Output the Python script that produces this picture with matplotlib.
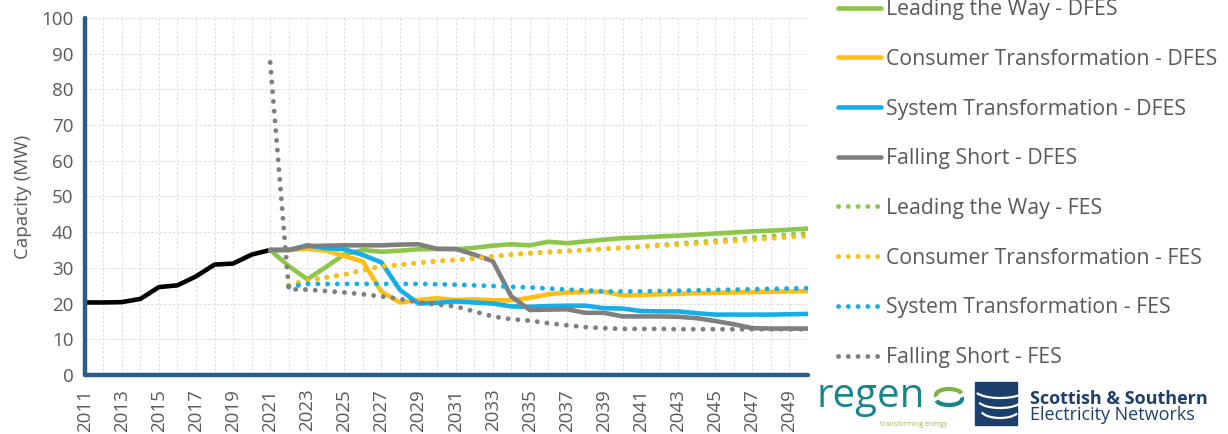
import numpy as np
import matplotlib
matplotlib.use("Agg")
import matplotlib.pyplot as plt
from matplotlib.patches import Rectangle, Arc
from matplotlib.ticker import MultipleLocator

plt.rcParams["font.family"] = ["Open Sans", "DejaVu Sans"]

# ---- data -------------------------------------------------------------
hist_years = list(range(2011, 2022))
historic = [20.3, 20.3, 20.4, 21.3, 24.6, 25.1, 27.6, 30.9, 31.2, 33.7, 35.0]

dfes_years = list(range(2021, 2051))
ltw_dfes = [35.0, 30.5, 26.8, 30.2, 33.8, 35.0, 34.5, 34.8, 35.2, 35.3,
            35.2, 35.6, 36.2, 36.6, 36.3, 37.3, 36.9, 37.4, 37.9, 38.3,
            38.5, 38.8, 39.0, 39.3, 39.6, 39.9, 40.2, 40.4, 40.7, 41.0]
ct_dfes = [35.0, 35.0, 35.3, 34.8, 33.3, 31.8, 23.3, 20.3, 21.0, 21.5,
           21.0, 21.2, 20.9, 20.9, 21.6, 22.6, 23.1, 23.2, 23.3, 22.3,
           22.4, 22.6, 22.7, 22.9, 23.0, 23.1, 23.2, 23.3, 23.4, 23.5]
st_dfes = [35.0, 35.0, 36.3, 35.5, 35.2, 33.6, 31.5, 23.8, 20.0, 20.2,
           20.6, 20.3, 20.0, 19.2, 19.1, 19.3, 19.4, 19.4, 18.7, 18.6,
           17.9, 17.8, 17.8, 17.3, 16.9, 16.9, 16.9, 16.9, 17.0, 17.1]
fs_dfes = [35.0, 35.0, 36.1, 36.2, 36.3, 36.3, 36.3, 36.5, 36.6, 35.3,
           35.3, 33.7, 31.9, 22.0, 18.2, 18.3, 18.4, 17.4, 17.4, 16.4,
           16.4, 16.4, 16.3, 15.9, 15.1, 14.2, 13.1, 13.0, 13.0, 13.0]

fes_years = list(range(2022, 2051))
ltw_fes = [25.1, 26.5, 27.3, 28.1, 29.4, 30.4, 30.9, 31.4, 31.9, 32.2,
           32.6, 33.2, 33.7, 34.1, 34.4, 34.7, 35.0, 35.3, 35.6, 36.0,
           36.4, 36.8, 37.2, 37.6, 38.0, 38.5, 38.9, 39.3, 39.7]
ct_fes = [25.1, 26.5, 27.3, 28.1, 29.4, 30.4, 30.9, 31.4, 31.9, 32.2,
          32.6, 33.2, 33.7, 34.1, 34.4, 34.7, 35.0, 35.3, 35.6, 35.9,
          36.2, 36.5, 36.8, 37.1, 37.5, 37.9, 38.2, 38.6, 38.9]
st_fes = [24.6, 25.5, 25.5, 25.5, 25.5, 25.5, 25.5, 25.5, 25.4, 25.3,
          25.1, 24.9, 24.7, 24.5, 24.2, 23.9, 23.7, 23.4, 23.4, 23.4,
          23.5, 23.6, 23.7, 23.8, 23.9, 24.0, 24.1, 24.2, 24.3]
fs_fes_years = list(range(2021, 2051))
fs_fes = [87.5, 24.0, 23.9, 23.5, 23.1, 22.6, 22.0, 21.3, 20.3, 19.7,
          19.2, 17.8, 16.4, 15.6, 15.2, 14.5, 13.9, 13.4, 13.1, 12.9,
          12.9, 12.9, 12.8, 12.8, 12.8, 12.8, 12.8, 12.8, 12.8, 12.8]

labels = ["Leading the Way - DFES", "Consumer Transformation - DFES",
          "System Transformation - DFES", "Falling Short - DFES",
          "Leading the Way - FES", "Consumer Transformation - FES",
          "System Transformation - FES", "Falling Short - FES"]

GREEN, YELLOW, BLUE, GREY = "#8DC64B", "#FDBE16", "#16AEE8", "#7F7F7F"
TEXT = "#595959"
NAVY = "#2A5C8A"

# ---- figure -----------------------------------------------------------
fig = plt.figure(figsize=(12.28, 4.34), dpi=100)
ax = fig.add_axes([0.069, 0.136, 0.589, 0.823])

solid = dict(lw=3.3, solid_capstyle="round", solid_joinstyle="round")
dotted = dict(lw=3.5, linestyle=(0, (0.01, 2.0)), dash_capstyle="round")

ax.plot(hist_years, historic, color="black", **solid)
ax.plot(dfes_years, ltw_dfes, color=GREEN, label=labels[0], **solid)
ax.plot(dfes_years, ct_dfes, color=YELLOW, label=labels[1], **solid)
ax.plot(dfes_years, st_dfes, color=BLUE, label=labels[2], **solid)
ax.plot(dfes_years, fs_dfes, color=GREY, label=labels[3], **solid)
ax.plot(fes_years, ltw_fes, color=GREEN, label=labels[4], **dotted)
ax.plot(fes_years, ct_fes, color=YELLOW, label=labels[5], **dotted)
ax.plot(fes_years, st_fes, color=BLUE, label=labels[6], **dotted)
ax.plot(fs_fes_years, fs_fes, color=GREY, label=labels[7], **dotted)

ax.set_xlim(2011, 2050)
ax.set_ylim(0, 100)
ax.xaxis.set_minor_locator(MultipleLocator(1))
ax.yaxis.set_major_locator(MultipleLocator(10))
ax.set_xticks(range(2011, 2050, 2))
ax.set_xticklabels([str(y) for y in range(2011, 2050, 2)], rotation=90)

ax.grid(True, which="both", axis="x", color="#dcdcdc", lw=0.7,
        linestyle=(0, (2.5, 2)))
ax.grid(True, which="major", axis="y", color="#dcdcdc", lw=0.7,
        linestyle=(0, (2.5, 2)))
ax.set_axisbelow(True)

for side in ("top", "right"):
    ax.spines[side].set_visible(False)
for side in ("left", "bottom"):
    ax.spines[side].set_color(NAVY)
    ax.spines[side].set_linewidth(3.2)
    ax.spines[side].set_capstyle("round")

ax.tick_params(axis="both", which="both", length=0, labelsize=13.5,
               labelcolor=TEXT)
ax.tick_params(axis="x", pad=10)
ax.tick_params(axis="y", pad=8)
ax.set_ylabel("Capacity (MW)", fontsize=13.5, color=TEXT, labelpad=7)

leg = ax.legend(loc="upper left", bbox_to_anchor=(1.030, 1.076),
                frameon=False, fontsize=15.3, labelcolor=TEXT,
                handlelength=2.0, handletextpad=0.25, labelspacing=1.35,
                borderaxespad=0)

# ---- logos ----------------------------------------------------------
TEAL = "#17858C"
fig.text(817 / 1228, 1 - 407 / 434, "regen", fontsize=29, color=TEAL,
         va="baseline", ha="left")
fig.text(880 / 1228, 1 - 424 / 434, "transforming energy", fontsize=5,
         color="#9dbb62", va="center", ha="left")
fig.patches.append(Arc((949 / 1228, 1 - 395 / 434), 26 / 1228, 12 / 434,
                       theta1=20, theta2=200, lw=3, color="#7cb342",
                       transform=fig.transFigure, figure=fig))
fig.patches.append(Arc((949 / 1228, 1 - 399 / 434), 26 / 1228, 12 / 434,
                       theta1=200, theta2=380, lw=3, color=TEAL,
                       transform=fig.transFigure, figure=fig))

SSEN_NAVY = "#1C3F6B"
fig.patches.append(Rectangle((975 / 1228, 1 - 425 / 434), 42 / 1228,
                             43 / 434, color=SSEN_NAVY,
                             transform=fig.transFigure, figure=fig))
for cy, w in [(390, 50), (400, 44), (410, 38)]:
    fig.patches.append(Arc((1000 / 1228, 1 - cy / 434), w / 1228, 16 / 434,
                           theta1=200, theta2=330, lw=1.6, color="white",
                           transform=fig.transFigure, figure=fig))
fig.text(1030 / 1228, 1 - 399 / 434, "Scottish & Southern", fontsize=13,
         color=SSEN_NAVY, fontweight="bold", va="center", ha="left")
fig.text(1030 / 1228, 1 - 415 / 434, "Electricity Networks", fontsize=13,
         color=SSEN_NAVY, va="center", ha="left")

fig.savefig("out.png", dpi=100)
